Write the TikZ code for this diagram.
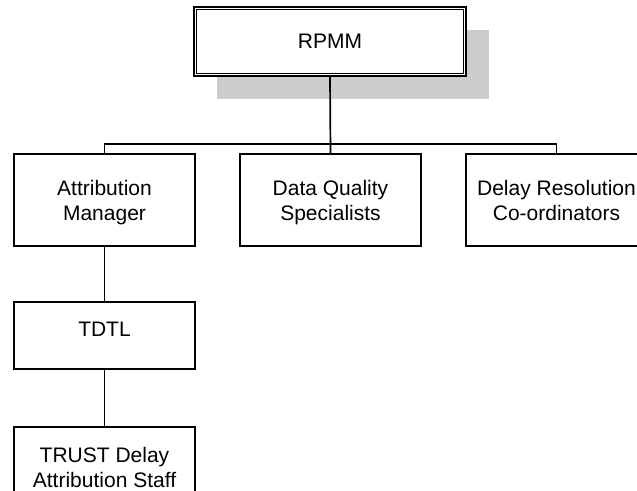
\documentclass[tikz,border=0pt]{standalone}
\usepackage{fontspec}
\setmainfont{Liberation Sans}
\begin{document}
\begin{tikzpicture}[x=1pt,y=-1pt,
  box/.style={draw=black,line width=1.7pt,fill=white,minimum width=181pt,align=center,
    font=\fontsize{21pt}{25pt}\selectfont,inner sep=0pt},
  conn/.style={draw=black,line width=1.7pt}]
\useasboundingbox (0,0) rectangle (637,490);
% shadow
\fill[black!20] (217,30) rectangle (489,99);
% top node
\node[draw=black,line width=2.2pt,fill=white,minimum width=272pt,minimum height=69pt,
  font=\fontsize{21pt}{25pt}\selectfont,inner sep=0pt] (r) at (330,41.5) {RPMM};
\draw[line width=1pt] ([shift={(4pt,-4pt)}]r.north west) rectangle ([shift={(-4pt,4pt)}]r.south east);
% children
\node[box,minimum height=92pt,text depth=-4pt] (am) at (104.5,200) {Attribution\\Manager};
\node[box,minimum height=92pt,text depth=-4pt] (dq) at (330.5,200) {Data Quality\\Specialists};
\node[box,minimum height=92pt,text depth=-4pt] (dr) at (556.5,200) {Delay Resolution\\Co-ordinators};
\node[box,minimum height=67pt,text depth=12pt] (td) at (104.5,335.5) {TDTL};
\node[box,minimum height=91pt,text depth=10pt] (ts) at (104.5,472.5) {TRUST Delay\\Attribution Staff};
\coordinate (j) at (330,144);
% connectors
\draw[conn] (r.south) -- (dq.north);
\draw[conn] (am.north) |- (j) -| (dr.north);
\draw[conn] (am.south) -- (td.north);
\draw[conn] (td.south) -- (ts.north);
\end{tikzpicture}
\end{document}
